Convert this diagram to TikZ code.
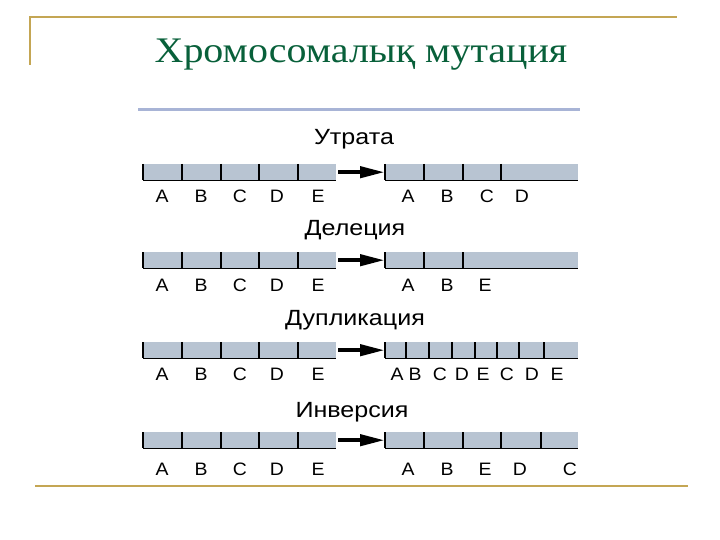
\documentclass[tikz,border=0pt]{standalone}
\usepackage{fontspec}
\setmainfont{Liberation Serif}
\setsansfont{Liberation Sans}
\newfontfamily\titlefont[FakeStretch=1.11]{Liberation Serif}
\newfontfamily\kindfont[FakeStretch=1.14]{Liberation Sans}
\newfontfamily\genefont[FakeStretch=1.08]{Liberation Sans}
\usetikzlibrary{arrows.meta}

\definecolor{framegold}{RGB}{196,166,84}
\definecolor{titlegreen}{RGB}{8,96,58}
\definecolor{rulebl}{RGB}{168,180,214}
\definecolor{chromfill}{RGB}{184,196,210}

\begin{document}
\begin{tikzpicture}[x=1pt,y=-1pt,
  every node/.style={inner sep=0pt},
  chrom/.style={fill=chromfill,minimum width=193pt,minimum height=16pt,anchor=north west},
  band/.style={line width=1.4pt},
  gene/.style={font=\genefont\fontsize{18}{18}\selectfont,anchor=base},
  kind/.style={font=\kindfont\fontsize{22}{22}\selectfont,anchor=base},
  turn/.style={line width=4.2pt,-{Triangle[length=25pt,width=11pt]},shorten <=2pt}]
\useasboundingbox (0,0) rectangle (720,540);

% frame of the slide
\draw[framegold,line width=2pt] (29.5,65) -- (29.5,17.5) -- (677,17.5);
\draw[framegold,line width=2pt] (35,486) -- (688,486);
\draw[rulebl,line width=3pt] (138,110) -- (580,110);

\node[font=\titlefont\fontsize{36}{36}\selectfont,text=titlegreen,anchor=base] (title) at (361,63) {Хромосомалық мутация};

% row 1
\node[kind] (k1) at (354,145) {Утрата};
\node[chrom] (l1) at (143,164) {};
\node[chrom] (r1) at (385,164) {};
\draw[band] (l1.south west) -- (l1.south east);
\draw[band] (r1.south west) -- (r1.south east);
\foreach \x in {143,182,221,259,298} \draw[band] (\x,164) -- (\x,180);
\foreach \x in {385,424,463,501} \draw[band] (\x,164) -- (\x,180);
\draw[turn] (l1.east) -- (r1.west);
\foreach \g/\x in {A/162,B/201,C/240,D/277,E/318} \node[gene] (l1\g) at (\x,203) {\g};
\foreach \g/\x in {A/408,B/447,C/487,D/522} \node[gene] (r1\g) at (\x,203) {\g};

% row 2
\node[kind] (k2) at (355,236) {Делеция};
\node[chrom] (l2) at (143,252) {};
\node[chrom] (r2) at (385,252) {};
\draw[band] (l2.south west) -- (l2.south east);
\draw[band] (r2.south west) -- (r2.south east);
\foreach \x in {143,182,221,259,298} \draw[band] (\x,252) -- (\x,268);
\foreach \x in {385,424,463} \draw[band] (\x,252) -- (\x,268);
\draw[turn] (l2.east) -- (r2.west);
\foreach \g/\x in {A/162,B/201,C/240,D/277,E/318} \node[gene] (l2\g) at (\x,291) {\g};
\foreach \g/\x in {A/408,B/447,E/485} \node[gene] (r2\g) at (\x,291) {\g};

% row 3
\node[kind] (k3) at (355,325) {Дупликация};
\node[chrom] (l3) at (143,342) {};
\node[chrom] (r3) at (385,342) {};
\draw[band] (l3.south west) -- (l3.south east);
\draw[band] (r3.south west) -- (r3.south east);
\foreach \x in {143,182,221,259,298} \draw[band] (\x,342) -- (\x,358);
\foreach \x in {385,406,429,452,475,497,519,544} \draw[band] (\x,342) -- (\x,358);
\draw[turn] (l3.east) -- (r3.west);
\foreach \g/\x in {A/162,B/201,C/240,D/277,E/318} \node[gene] (l3\g) at (\x,380) {\g};
\foreach \g/\x [count=\i] in {A/397,B/415,C/440,D/462,E/483,C/507,D/532,E/557}
  \node[gene] (r3g\i) at (\x,380) {\g};

% row 4
\node[kind] (k4) at (352,417) {Инверсия};
\node[chrom] (l4) at (143,432) {};
\node[chrom] (r4) at (385,432) {};
\draw[band] (l4.south west) -- (l4.south east);
\draw[band] (r4.south west) -- (r4.south east);
\foreach \x in {143,182,221,259,298} \draw[band] (\x,432) -- (\x,448);
\foreach \x in {385,424,463,501,541} \draw[band] (\x,432) -- (\x,448);
\draw[turn] (l4.east) -- (r4.west);
\foreach \g/\x in {A/162,B/201,C/240,D/277,E/318} \node[gene] (l4\g) at (\x,475) {\g};
\foreach \g/\x in {A/408,B/447,E/485,D/520,C/570} \node[gene] (r4\g) at (\x,475) {\g};
\end{tikzpicture}
\end{document}
